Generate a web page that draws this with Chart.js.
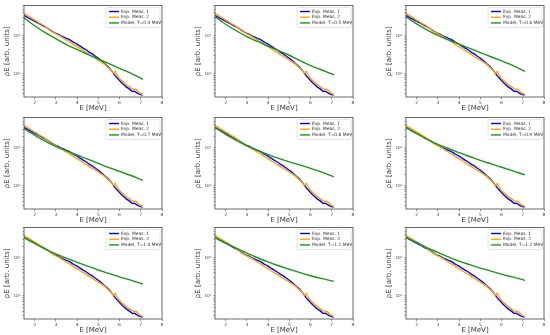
<!DOCTYPE html>
<html>
<head>
<meta charset="utf-8">
<script src="https://cdn.jsdelivr.net/npm/chart.js@4.4.0/dist/chart.umd.min.js"></script>
<style>
  html, body { margin: 0; padding: 0; background: #fff; }
  #grid { position: relative; width: 550px; height: 335px; overflow: hidden; }
  .panel { position: absolute; }
</style>
</head>
<body>
<div id="grid"></div>
<script>
// measured level density, same for every panel
const energies = [1.5, 1.6, 1.7, 1.8, 1.9, 2.0, 2.1, 2.2, 2.3, 2.4, 2.5, 2.6, 2.7, 2.8, 2.9,
  3.0, 3.1, 3.2, 3.3, 3.4, 3.5, 3.6, 3.7, 3.8, 3.9, 4.0, 4.1, 4.2, 4.3, 4.4, 4.5, 4.6, 4.7,
  4.8, 4.9, 5.0, 5.1, 5.2, 5.3, 5.4, 5.5, 5.6, 5.7, 5.8, 5.9, 6.0, 6.1, 6.2, 6.3, 6.4, 6.5,
  6.6, 6.7, 6.8, 6.9, 7.0, 7.1];
const meas1 = [33.9, 31.6, 29.5, 27.5, 25.7, 24.0, 22.4, 20.9, 19.5, 18.2, 17.0, 15.8, 14.5,
  13.2, 12.3, 11.5, 11.0, 10.2, 9.55, 9.12, 8.51, 8.13, 7.59, 6.92, 6.46, 6.03, 5.50, 5.13,
  4.68, 4.37, 3.98, 3.63, 3.39, 3.09, 2.82, 2.57, 2.34, 2.09, 1.86, 1.66, 1.48, 1.26, 1.07,
  0.891, 0.776, 0.676, 0.589, 0.525, 0.468, 0.427, 0.389, 0.347, 0.355, 0.324, 0.302, 0.288, 0.282];
const meas2 = [38.9, 35.5, 33.1, 30.2, 28.2, 25.7, 24.0, 21.9, 20.4, 19.1, 17.4, 15.8, 14.1,
  12.9, 12.0, 11.2, 10.5, 9.77, 9.12, 8.32, 7.76, 7.08, 6.61, 6.03, 5.62, 5.13, 4.79, 4.37,
  4.07, 3.72, 3.47, 3.16, 2.95, 2.69, 2.51, 2.29, 2.14, 1.95, 1.78, 1.58, 1.41, 1.26, 1.05,
  1.17, 0.912, 0.759, 0.676, 0.603, 0.537, 0.490, 0.447, 0.407, 0.398, 0.389, 0.339, 0.309, 0.288];

// model curves, one per temperature
const modelE = [1.5, 2.0, 2.5, 3.0, 3.5, 4.0, 4.5, 5.0, 5.5, 6.0, 6.5, 7.1];
const temps = [0.4, 0.5, 0.6, 0.7, 0.8, 0.9, 1.0, 1.1, 1.2];
const modelT04 = [29.5, 18.2, 12.0, 8.32, 5.89, 4.37, 3.24, 2.45, 1.86, 1.41, 1.07, 0.724];
const modelT05 = [31.6, 20.0, 13.5, 9.55, 7.08, 5.37, 4.07, 3.09, 2.24, 1.66, 1.29, 0.955];
const modelT06 = [31.6, 20.4, 14.1, 10.2, 7.76, 6.03, 4.68, 3.63, 2.82, 2.19, 1.70, 1.17];
const modelT07 = [31.6, 21.4, 14.8, 10.7, 8.32, 6.46, 5.01, 3.89, 3.02, 2.40, 1.91, 1.41];
const modelT08 = [33.9, 22.4, 15.5, 11.2, 8.51, 6.61, 5.25, 4.27, 3.55, 2.88, 2.34, 1.74];
const modelT09 = [33.9, 23.4, 16.6, 12.3, 9.55, 7.41, 5.89, 4.68, 3.80, 3.09, 2.51, 1.95];
const modelT10 = [33.9, 24.0, 17.0, 12.6, 9.77, 7.59, 6.03, 4.79, 3.89, 3.16, 2.63, 2.04];
const modelT11 = [33.9, 24.5, 17.8, 13.2, 10.0, 7.76, 6.17, 5.01, 4.07, 3.39, 2.88, 2.40];
const modelT12 = [33.9, 25.1, 18.2, 13.8, 10.5, 8.13, 6.61, 5.37, 4.47, 3.72, 3.16, 2.57];
const modelCurves = [modelT04, modelT05, modelT06, modelT07, modelT08, modelT09, modelT10, modelT11, modelT12];

// axis ticks
const xTicks = [2, 3, 4, 5, 6, 7, 8];
const yTicks = [0.3, 0.4, 0.5, 0.6, 0.7, 0.8, 0.9, 1, 2, 3, 4, 5, 6, 7, 8, 9, 10, 20, 30, 40, 50, 60];
const yTickLabels = { 1: '10\u2070', 10: '10\u00b9' };

const FONT = 'DejaVu Sans';
const grid = document.getElementById('grid');
const colLeft = [24, 215, 406];
const rowTop = [5, 117, 227];

// axes box + inline legend (matplotlib style)
const framePlugin = {
  id: 'frame',
  afterDraw(chart) {
    const { ctx, chartArea: a } = chart;
    ctx.save();
    ctx.strokeStyle = '#444';
    ctx.lineWidth = 0.8;
    ctx.strokeRect(a.left, a.top, a.right - a.left, a.bottom - a.top);

    const w = 54, h = 20;
    const bx = a.right - 2 - w, by = a.top + 2;
    ctx.fillStyle = 'rgba(255,255,255,0.85)';
    ctx.strokeStyle = '#d0d0d0';
    ctx.lineWidth = 0.6;
    ctx.beginPath();
    ctx.roundRect(bx, by, w, h, 1.5);
    ctx.fill();
    ctx.stroke();

    ctx.font = '4.4px "' + FONT + '"';
    ctx.textBaseline = 'middle';
    chart.data.datasets.forEach((ds, i) => {
      const y = by + 4 + i * 5.7;
      ctx.strokeStyle = ds.borderColor;
      ctx.lineWidth = 1.4;
      ctx.beginPath();
      ctx.moveTo(bx + 3, y);
      ctx.lineTo(bx + 13, y);
      ctx.stroke();
      ctx.fillStyle = '#333';
      ctx.fillText(ds.label, bx + 15, y);
    });
    ctx.restore();
  }
};

function createPanel(idx) {
  const col = idx % 3, row = Math.floor(idx / 3);
  const div = document.createElement('div');
  div.className = 'panel';
  div.style.left = (colLeft[col] - 24) + 'px';
  div.style.top = (rowTop[row] - 4) + 'px';
  const canvas = document.createElement('canvas');
  canvas.width = 168;
  canvas.height = 112;
  div.appendChild(canvas);
  grid.appendChild(div);

  const pts = (xs, ys) => xs.map((x, i) => ({ x: x, y: ys[i] }));

  new Chart(canvas.getContext('2d'), {
    type: 'line',
    data: {
      datasets: [
        { label: 'Exp. Meas. 1', data: pts(energies, meas1), borderColor: '#0000ff', order: 3 },
        { label: 'Exp. Meas. 2', data: pts(energies, meas2), borderColor: '#ffa500', order: 2 },
        { label: 'Model, T=' + temps[idx].toFixed(1) + ' MeV', data: pts(modelE, modelCurves[idx]),
          borderColor: '#1b961b', order: 1, tension: 0.4, cubicInterpolationMode: 'monotone' }
      ]
    },
    options: {
      responsive: false,
      devicePixelRatio: 1,
      animation: false,
      layout: { padding: { top: 4, right: 6, left: 0, bottom: 0 } },
      elements: { point: { radius: 0 }, line: { borderWidth: 1.4, fill: false } },
      plugins: { legend: { display: false }, tooltip: { enabled: false } },
      scales: {
        x: {
          type: 'linear', min: 1.5, max: 8,
          afterBuildTicks: s => { s.ticks = xTicks.map(v => ({ value: v })); },
          afterFit: s => { s.height = 16; },
          grid: { drawOnChartArea: false, tickLength: 2, color: '#444', lineWidth: 0.6 },
          border: { display: false },
          ticks: { font: { family: FONT, size: 4.5 }, color: '#444', padding: 1, maxRotation: 0, autoSkip: false },
          title: { display: true, text: 'E [MeV]', font: { family: FONT, size: 7 }, color: '#333', padding: { top: 0, bottom: 1 } }
        },
        y: {
          type: 'logarithmic', min: 0.25, max: 61.7,
          afterBuildTicks: s => { s.ticks = yTicks.map(v => ({ value: v })); },
          afterFit: s => { s.width = 24; },
          grid: { drawOnChartArea: false, tickLength: 1.6, color: '#444', lineWidth: 0.5 },
          border: { display: false },
          ticks: {
            font: { family: FONT, size: 4.2 }, color: '#444', padding: 2, autoSkip: false,
            callback: v => yTickLabels[v] || ''
          },
          title: { display: true, text: '\u03c1E [arb. units]', font: { family: FONT, size: 7 }, color: '#333', padding: { top: 3, bottom: 0 } }
        }
      }
    },
    plugins: [framePlugin]
  });
}

for (let i = 0; i < 9; i++) createPanel(i);
</script>
</body>
</html>
